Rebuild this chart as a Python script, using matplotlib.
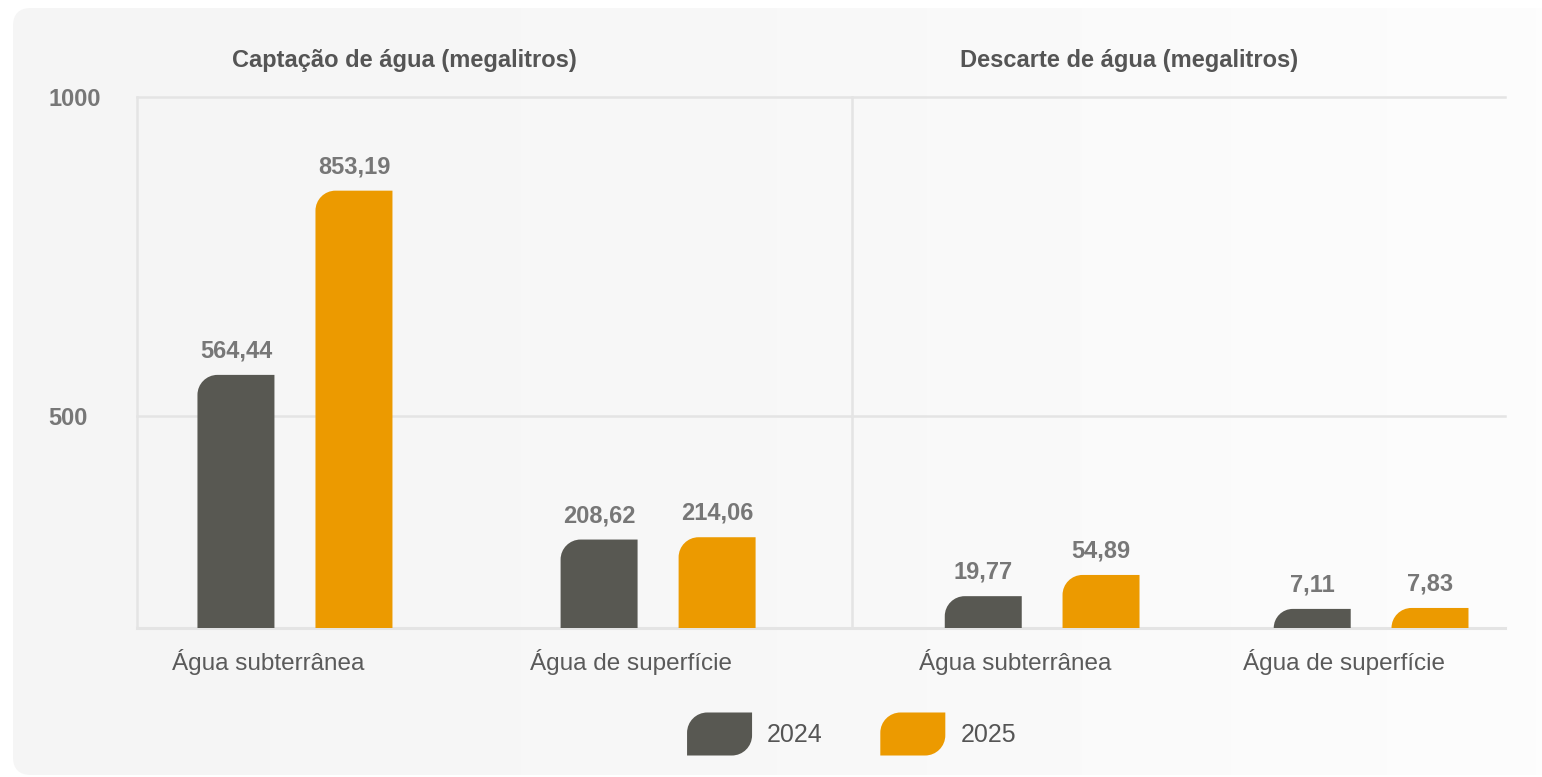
import numpy as np
import matplotlib
matplotlib.use('Agg')
import matplotlib.pyplot as plt
from matplotlib.path import Path
from matplotlib.patches import PathPatch, FancyBboxPatch, Patch
from matplotlib.lines import Line2D
from matplotlib.legend_handler import HandlerBase
from matplotlib import transforms
from matplotlib.colors import LinearSegmentedColormap

plt.rcParams['font.family'] = ['Liberation Sans', 'DejaVu Sans']

# data
categories = ['Água subterrânea', 'Água de superfície']
years = ['2024', '2025']
captacao_2024 = [564.44, 208.62]
captacao_2025 = [853.19, 214.06]
descarte_2024 = [19.77, 7.11]
descarte_2025 = [54.89, 7.83]
yticks = [500, 1000]

c_dark = '#585852'
c_orange = '#EC9A00'
c_grid = '#E4E4E4'

M, L, C4, CL = Path.MOVETO, Path.LINETO, Path.CURVE4, Path.CLOSEPOLY
K = 0.5523


def fmt(v):
    return f'{v:.2f}'.replace('.', ',')


W, H = 1542, 777
fig = plt.figure(figsize=(W / 100, H / 100), dpi=100)
fig.patch.set_facecolor('white')


def frac(x0, y0, x1, y1):
    # pixel box (top-left origin) -> figure fraction rect
    return [x0 / W, 1 - y1 / H, (x1 - x0) / W, (y1 - y0) / H]


# card background with a soft horizontal gradient
bg = fig.add_axes([0, 0, 1, 1], zorder=-2)
bg.set_xlim(0, W)
bg.set_ylim(H, 0)
bg.axis('off')
card = FancyBboxPatch((13, 8), W, 767, boxstyle='round,pad=0,rounding_size=18',
                      fc='none', ec='none')
bg.add_patch(card)
cmap = LinearSegmentedColormap.from_list('bg', ['#F5F5F5', '#F8F8F8', '#FDFDFD'])
img = bg.imshow(np.linspace(0, 1, 256)[None, :], cmap=cmap, aspect='auto',
                extent=(13, W, 775, 8))
img.set_clip_path(card)

ax1 = fig.add_axes(frac(137, 97, 852, 628))
ax2 = fig.add_axes(frac(852, 97, 1505, 628))
for ax in (ax1, ax2):
    ax.set_facecolor('none')
    for s in ax.spines.values():
        s.set_visible(False)

# left panel keeps the infographic's uneven spacing of 500 / 1000
knots_v = [0, 500, 1000]
knots_p = [0, 212, 531]
ax1.set_yscale('function', functions=(lambda v: np.interp(v, knots_v, knots_p),
                                      lambda p: np.interp(p, knots_p, knots_v)))
ax1.set_ylim(0, 1000)
ax1.set_xlim(-0.435, 1.534)

# right panel: compressed scale so the small values stay visible
ax2.set_yscale('function', functions=(lambda v: np.sqrt(np.clip(v, 0, None)),
                                      lambda p: np.square(p)))
ax2.set_ylim(0, 5500)
ax2.set_xlim(-0.578, 1.407)


def round_bars(ax, bars, color, r=20):
    for rect in bars:
        x0, y0, x1, y1 = rect.get_window_extent().extents
        rr = min(r, y1 - y0, x1 - x0)
        k = K * rr
        verts = [(x0, y0), (x1, y0), (x1, y1), (x0 + rr, y1),
                 (x0 + rr - k, y1), (x0, y1 - rr + k), (x0, y1 - rr), (x0, y0)]
        codes = [M, L, L, L, C4, C4, C4, CL]
        verts = ax.transAxes.inverted().transform(verts)
        ax.add_patch(PathPatch(Path(verts, codes), fc=color, ec='none',
                               transform=ax.transAxes, zorder=2))
        rect.set_visible(False)


x = np.arange(len(categories))
panels = [(ax1, captacao_2024, captacao_2025, 0.1625, 0.212),
          (ax2, descarte_2024, descarte_2025, 0.179, 0.234)]
shift = transforms.ScaledTranslation(-27 / 100, 0, fig.dpi_scale_trans)
for ax, s24, s25, off, w in panels:
    b1 = ax.bar(x - off, s24, width=w, color=c_dark)
    b2 = ax.bar(x + off, s25, width=w, color=c_orange)
    round_bars(ax, b1, c_dark)
    round_bars(ax, b2, c_orange)
    for xs, vals in ((x - off, s24), (x + off, s25)):
        for xi, v in zip(xs, vals):
            ax.annotate(fmt(v), (xi, v), xytext=(0, 24), textcoords='offset pixels',
                        ha='center', va='center', fontsize=17, fontweight='bold',
                        color='#777777')
    ax.set_xticks(x, categories)
    ax.tick_params(axis='x', length=0, pad=15, labelsize=17.5, labelcolor='#5a5a5a')
    for lbl in ax.get_xticklabels():
        lbl.set_transform(lbl.get_transform() + shift)

ax1.set_yticks(yticks, [str(t) for t in yticks])
ax1.tick_params(axis='y', length=0, pad=64, labelsize=17, labelcolor='#777777')
for lbl in ax1.get_yticklabels():
    lbl.set_fontweight('bold')
    lbl.set_horizontalalignment('left')
ax1.yaxis.set_minor_locator(matplotlib.ticker.NullLocator())
ax2.set_yticks([])
ax2.yaxis.set_minor_locator(matplotlib.ticker.NullLocator())

# grid lines running under both panels
blend = transforms.blended_transform_factory(fig.transFigure, ax1.transData)
for t in [0] + yticks:
    fig.add_artist(Line2D([137 / W, 1505 / W], [t, t], transform=blend,
                          color=c_grid, lw=2.2 if t == 0 else 1.8, zorder=-1))
for xv in (137, 852):
    fig.add_artist(Line2D([xv / W, xv / W], [1 - 628 / H, 1 - 97 / H],
                          color=c_grid, lw=1.8, zorder=-1))

fig.text(404 / W, 1 - 60 / H, 'Captação de água (megalitros)', ha='center', va='center',
         fontsize=17, fontweight='bold', color='#555555')
fig.text(1129 / W, 1 - 60 / H, 'Descarte de água (megalitros)', ha='center', va='center',
         fontsize=17, fontweight='bold', color='#555555')


class LeafHandler(HandlerBase):
    def create_artists(self, legend, orig_handle, xdescent, ydescent, width, height,
                       fontsize, trans):
        x0, y0 = -xdescent, -ydescent
        x1, y1 = x0 + width, y0 + height
        r = 0.47 * height
        k = K * r
        verts = [(x0, y0), (x1 - r, y0), (x1 - r + k, y0), (x1, y0 + r - k), (x1, y0 + r),
                 (x1, y1), (x0 + r, y1), (x0 + r - k, y1), (x0, y1 - r + k), (x0, y1 - r),
                 (x0, y0)]
        codes = [M, L, C4, C4, C4, L, L, C4, C4, C4, CL]
        return [PathPatch(Path(verts, codes), fc=orig_handle.get_facecolor(), ec='none',
                          transform=trans)]


handles = [Patch(color=c_dark), Patch(color=c_orange)]
leg = fig.legend(handles, years, loc='center', bbox_to_anchor=(851.5 / W, 1 - 734 / H),
                 ncol=2, frameon=False, fontsize=18, handlelength=2.6, handleheight=2.27,
                 handletextpad=0.6, columnspacing=2.3, labelcolor='#555555',
                 handler_map={Patch: LeafHandler()})

fig.savefig('out.png', dpi=100)
